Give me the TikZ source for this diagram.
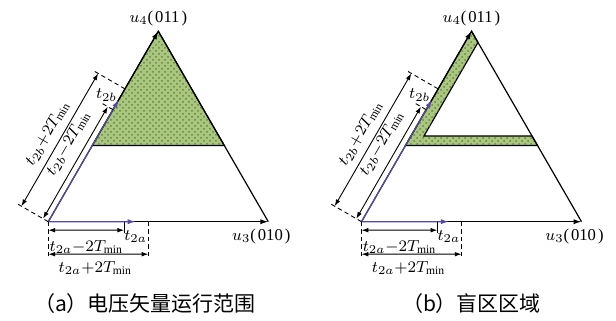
\documentclass[tikz,border=0pt]{standalone}
\usepackage{fontspec}
\setmainfont{Liberation Serif}
\newfontfamily\cjk{Noto Sans CJK SC}
\usepackage{tikz}
\usetikzlibrary{arrows.meta, calc, patterns}
\definecolor{vblue}{RGB}{86,74,166}
\definecolor{gfill}{RGB}{170,198,128}
\definecolor{gdot}{RGB}{98,136,56}

\begin{document}
\begin{tikzpicture}[
  x=0.5pt, y=0.5pt,
  >={Latex[length=4pt,width=2.6pt]},
  sideline/.style={line width=0.6pt},
  vec/.style={->, line width=0.6pt},
  bvec/.style={->, line width=0.6pt, vblue},
  dimarr/.style={{Latex[length=3.4pt,width=2.3pt]}-{Latex[length=3.4pt,width=2.3pt]}, line width=0.45pt},
  tickline/.style={line width=0.45pt},
  ext/.style={line width=0.45pt, dash pattern=on 2.2pt off 1.6pt},
  zone/.style={draw, line width=0.6pt, fill=gfill, postaction={pattern=crosshatch dots, pattern color=gdot}},
  lbl/.style={font=\fontsize{8.3}{9}\selectfont, inner sep=0.5pt},
  captext/.style={font=\cjk\fontsize{10.5}{12}\selectfont},
]
  \useasboundingbox (0,0) rectangle (616,321);

  % (a) operating range
  \coordinate (Oa) at (48.3,99.3);
  \coordinate (Aa) at ($(Oa)+(60:220)$);
  \coordinate (Ra) at ($(Oa)+(220,0)$);
  \coordinate (Ma) at ($(Oa)!0.4!(Aa)$);
  \coordinate (Na) at ($(Ra)!0.4!(Aa)$);
  \coordinate (a1a) at ($(Oa)!0.345!(Ra)$);
  \coordinate (taa) at ($(Oa)!0.397!(Ra)$);
  \coordinate (a2a) at ($(Oa)!0.455!(Ra)$);
  \coordinate (b1a) at ($(Oa)!0.588!(Aa)$);
  \coordinate (tba) at ($(Oa)!0.64!(Aa)$);
  \coordinate (b2a) at ($(Oa)!0.697!(Aa)$);

  \path[zone] (Ma) -- (Aa) -- (Na) -- cycle;
  \draw[sideline] (Aa) -- (Ra);
  \draw[vec] (Oa) -- (Aa);
  \draw[vec] (Oa) -- (Ra);
  \draw[bvec] (Oa) -- (tba);
  \draw[bvec] (Oa) -- (taa);

  \draw[ext] (Oa) -- ($(Oa)+(0,-37)$);
  \draw[ext] (a2a) -- ($(a2a)+(0,-37)$);
  \draw[tickline] (a1a) -- ($(a1a)+(0,-11)$);
  \draw[ext] (Oa) -- ($(Oa)+(150:37)$);
  \draw[ext] (b2a) -- ($(b2a)+(150:37)$);
  \draw[ext] (b1a) -- ($(b1a)+(150:12)$);
  \draw[dimarr] ($(Oa)+(0,-8.5)$) -- ($(a1a)+(0,-8.5)$);
  \draw[dimarr] ($(Oa)+(0,-32.5)$) -- ($(a2a)+(0,-32.5)$);
  \draw[dimarr] ($(Oa)+(150:6)$) -- ($(b1a)+(150:6)$);
  \draw[dimarr] ($(Oa)+(150:31)$) -- ($(b2a)+(150:31)$);

  \node[lbl] (lta1a) at ($(Oa)!0.5!(a1a)+(0,-25)$) {$t_{2a}{-}2T_{\min}$};
  \node[lbl] (ltaa) at ($(taa)+(0,-15)$) {$t_{2a}$};
  \node[lbl] (lta2a) at ($(Oa)!0.5!(a2a)+(-3,-46)$) {$t_{2a}{+}2T_{\min}$};
  \node[lbl, rotate=60] (ltb1a) at ($(Oa)+(60:78)+(150:22)$) {$t_{2b}{-}2T_{\min}$};
  \node[lbl, rotate=60] (ltb2a) at ($(Oa)+(60:76)+(150:45)$) {$t_{2b}{+}2T_{\min}$};
  \node[lbl] (ltba) at ($(Oa)+(60:139)+(150:13)$) {$t_{2b}$};
  \node[lbl] (u4a) at ($(Aa)+(0,13)$) {$u_4$(\hspace{1pt}011\hspace{1pt})};
  \node[lbl] (u3a) at ($(Ra)+(-7,-15)$) {$u_3$(\hspace{1pt}010\hspace{1pt})};

  % (b) dead zone
  \coordinate (Ob) at (361.5,99.3);
  \coordinate (Ab) at ($(Ob)+(60:220)$);
  \coordinate (Rb) at ($(Ob)+(220,0)$);
  \coordinate (Mb) at ($(Ob)!0.4!(Ab)$);
  \coordinate (Nb) at ($(Rb)!0.4!(Ab)$);
  \coordinate (Iab) at ($(Ob)!0.45!(Ab)+(13,0)$);
  \coordinate (Ibb) at ($(Rb)!0.45!(Ab)$);
  \coordinate (Itb) at ($(Iab)+(60:108)$);
  \coordinate (a1b) at ($(Ob)!0.345!(Rb)$);
  \coordinate (tab) at ($(Ob)!0.397!(Rb)$);
  \coordinate (a2b) at ($(Ob)!0.455!(Rb)$);
  \coordinate (b1b) at ($(Ob)!0.588!(Ab)$);
  \coordinate (tbb) at ($(Ob)!0.64!(Ab)$);
  \coordinate (b2b) at ($(Ob)!0.697!(Ab)$);

  \path[zone] (Mb) -- (Ab) -- (Itb) -- (Iab) -- (Ibb) -- (Nb) -- cycle;
  \draw[sideline] (Ab) -- (Rb);
  \draw[vec] (Ob) -- (Ab);
  \draw[vec] (Ob) -- (Rb);
  \draw[bvec] (Ob) -- (tbb);
  \draw[bvec] (Ob) -- (tab);

  \draw[ext] (Ob) -- ($(Ob)+(0,-37)$);
  \draw[ext] (a2b) -- ($(a2b)+(0,-37)$);
  \draw[tickline] (a1b) -- ($(a1b)+(0,-11)$);
  \draw[ext] (Ob) -- ($(Ob)+(150:37)$);
  \draw[ext] (b2b) -- ($(b2b)+(150:37)$);
  \draw[ext] (b1b) -- ($(b1b)+(150:12)$);
  \draw[dimarr] ($(Ob)+(0,-8.5)$) -- ($(a1b)+(0,-8.5)$);
  \draw[dimarr] ($(Ob)+(0,-32.5)$) -- ($(a2b)+(0,-32.5)$);
  \draw[dimarr] ($(Ob)+(150:6)$) -- ($(b1b)+(150:6)$);
  \draw[dimarr] ($(Ob)+(150:31)$) -- ($(b2b)+(150:31)$);

  \node[lbl] (lta1b) at ($(Ob)!0.5!(a1b)+(0,-25)$) {$t_{2a}{-}2T_{\min}$};
  \node[lbl] (ltab) at ($(tab)+(0,-15)$) {$t_{2a}$};
  \node[lbl] (lta2b) at ($(Ob)!0.5!(a2b)+(-3,-46)$) {$t_{2a}{+}2T_{\min}$};
  \node[lbl, rotate=60] (ltb1b) at ($(Ob)+(60:78)+(150:22)$) {$t_{2b}{-}2T_{\min}$};
  \node[lbl, rotate=60] (ltb2b) at ($(Ob)+(60:76)+(150:45)$) {$t_{2b}{+}2T_{\min}$};
  \node[lbl] (ltbb) at ($(Ob)+(60:139)+(150:13)$) {$t_{2b}$};
  \node[lbl] (u4b) at ($(Ab)+(0,13)$) {$u_4$(\hspace{1pt}011\hspace{1pt})};
  \node[lbl] (u3b) at ($(Rb)+(-7,-15)$) {$u_3$(\hspace{1pt}010\hspace{1pt})};

  \node[captext] (capa) at (145,17) {（a）电压矢量运行范围};
  \node[captext] (capb) at (471.5,17) {（b）盲区区域};
\end{tikzpicture}
\end{document}
